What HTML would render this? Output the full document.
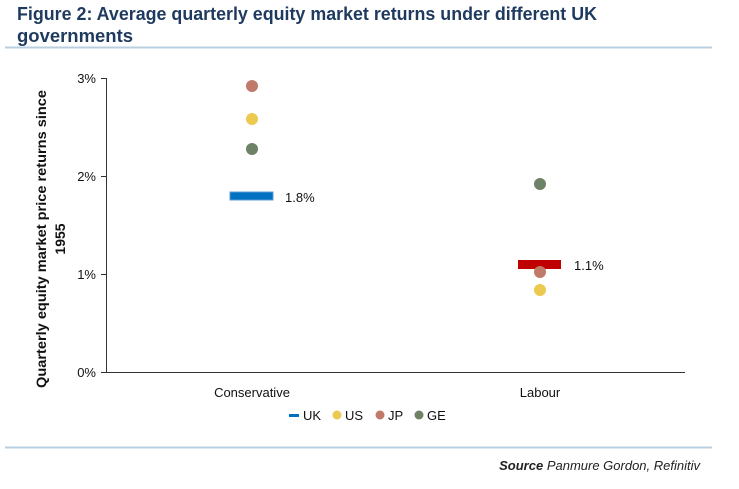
<!DOCTYPE html>
<html><head><style>
body{margin:0;background:#fff;width:739px;height:484px;overflow:hidden;font-family:"Liberation Sans",sans-serif;}
</style></head><body>
<svg width="739" height="484" xmlns="http://www.w3.org/2000/svg" font-family="Liberation Sans, sans-serif">
<text x="17" y="20" font-size="18" font-weight="bold" fill="#1f3a5f" textLength="580" lengthAdjust="spacingAndGlyphs">Figure 2: Average quarterly equity market returns under different UK</text>
<text x="17" y="42" font-size="18" font-weight="bold" fill="#1f3a5f" textLength="116" lengthAdjust="spacingAndGlyphs">governments</text>
<line x1="5" y1="47.5" x2="712" y2="47.5" stroke="#b8cfe0" stroke-width="2"/>
<line x1="5" y1="447.5" x2="712" y2="447.5" stroke="#b8cfe0" stroke-width="2"/>
<text x="700" y="470" font-size="13" font-style="italic" text-anchor="end" fill="#222"><tspan font-weight="bold">Source</tspan> Panmure Gordon, Refinitiv</text>
<g stroke="#333" stroke-width="1">
<line x1="106.5" y1="78" x2="106.5" y2="372"/>
<line x1="106" y1="372.5" x2="685" y2="372.5"/>
<line x1="101" y1="78.5" x2="106" y2="78.5"/>
<line x1="101" y1="176.5" x2="106" y2="176.5"/>
<line x1="101" y1="274.5" x2="106" y2="274.5"/>
<line x1="101" y1="372.5" x2="106" y2="372.5"/>
</g>
<g font-size="13" fill="#111" text-anchor="end">
<text x="96" y="83">3%</text><text x="96" y="181">2%</text><text x="96" y="279">1%</text><text x="96" y="377">0%</text>
</g>
<text transform="translate(46,239) rotate(-90)" font-size="14" font-weight="bold" text-anchor="middle" fill="#111" textLength="298" lengthAdjust="spacingAndGlyphs">Quarterly equity market price returns since</text>
<text transform="translate(65,239) rotate(-90)" font-size="14" font-weight="bold" text-anchor="middle" fill="#111">1955</text>
<g font-size="13" fill="#111" text-anchor="middle">
<text x="252" y="397">Conservative</text><text x="540" y="397">Labour</text>
</g>
<rect x="230" y="192" width="43" height="8" fill="#0070c0" stroke="#5b9bd5"/>
<text x="285" y="202" font-size="13" fill="#111">1.8%</text>
<circle cx="252" cy="86" r="6" fill="#c07a6a"/>
<circle cx="252" cy="119" r="6" fill="#ecc94f"/>
<circle cx="252" cy="149" r="6" fill="#6e8265"/>
<rect x="518" y="260" width="43" height="9" fill="#c00000"/>
<text x="574" y="270" font-size="13" fill="#111">1.1%</text>
<circle cx="540" cy="184" r="6" fill="#6e8265"/>
<circle cx="540" cy="272" r="6" fill="#c07a6a"/>
<circle cx="540" cy="290" r="6" fill="#ecc94f"/>
<g font-size="13" fill="#111">
<rect x="289" y="414" width="10" height="3" fill="#0070c0"/><text x="303" y="420">UK</text>
<circle cx="337" cy="415" r="4.5" fill="#ecc94f"/><text x="345" y="420">US</text>
<circle cx="380" cy="415" r="4.5" fill="#c07a6a"/><text x="388" y="420">JP</text>
<circle cx="419" cy="415" r="4.5" fill="#6e8265"/><text x="427" y="420">GE</text>
</g>
</svg>
</body></html>
